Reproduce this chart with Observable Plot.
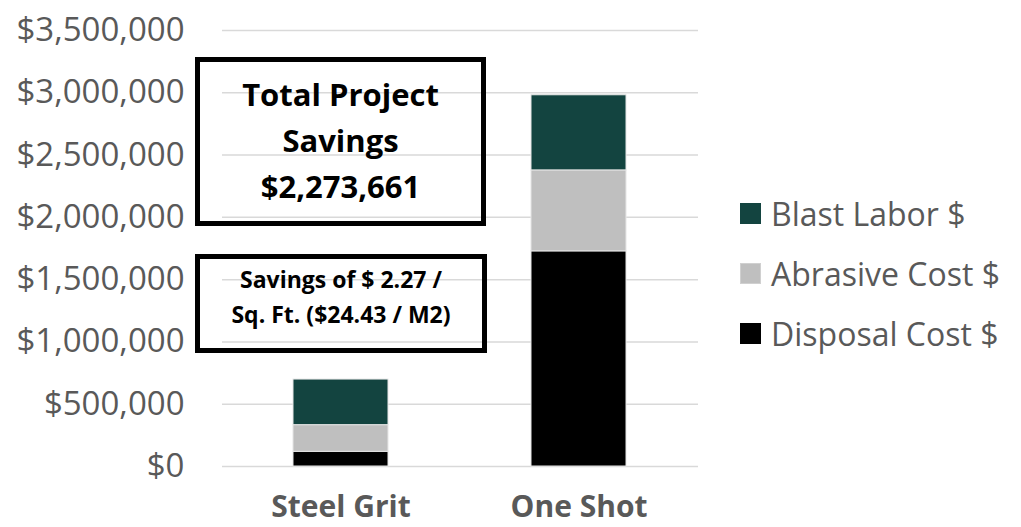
<!DOCTYPE html>
<html>
<head>
<meta charset="utf-8">
<script src="https://cdn.jsdelivr.net/npm/d3@7"></script>
<script src="https://cdn.jsdelivr.net/npm/@observablehq/plot@0.6"></script>
<style>
  body { margin: 0; background: #fff; }
  #wrap { position: relative; width: 1021px; height: 527px; overflow: hidden; font-family: "Open Sans", sans-serif; }
  #wrap svg { position: absolute; left: 0; top: 0; }
  .box { position: absolute; box-sizing: border-box; border: 5px solid #000; text-align: center; color: #000; font-weight: bold; }
  .legend { position: absolute; left: 740px; top: 0; }
  .legend .row { position: absolute; left: 0; height: 30px; display: flex; align-items: center; white-space: nowrap; }
  .legend .sw { width: 21px; height: 21px; margin-right: 10px; box-sizing: border-box; }
  .legend .lab { font-size: 32px; color: #595959; }
</style>
</head>
<body>
<div id="wrap"></div>
<script>
const categories = ["Steel Grit", "One Shot"];
const seriesNames = ["Disposal Cost $", "Abrasive Cost $", "Blast Labor $"];
const disposal = [118000, 1727000];
const abrasive = [214000, 650000];
const blast = [366000, 603000];
const seriesColors = ["#000000", "#bfbfbf", "#134440"];
const yTicks = [0, 500000, 1000000, 1500000, 2000000, 2500000, 3000000, 3500000];
const yTickLabels = ["$0", "$500,000", "$1,000,000", "$1,500,000", "$2,000,000", "$2,500,000", "$3,000,000", "$3,500,000"];
const legendOrder = ["Blast Labor $", "Abrasive Cost $", "Disposal Cost $"];
const boxTitle = ["Total Project", "Savings", "$2,273,661"];
const boxNote = ["Savings of $ 2.27 /", "Sq. Ft. ($24.43 / M2)"];

const seriesValues = [disposal, abrasive, blast];
const rows = [];
seriesNames.forEach((s, si) => categories.forEach((c, ci) => rows.push({cat: c, series: s, value: seriesValues[si][ci]})));

const chart = Plot.plot({
  width: 1021,
  height: 527,
  marginLeft: 222,
  marginRight: 323,
  marginTop: 30,
  marginBottom: 61,
  style: {fontFamily: "Open Sans, sans-serif", background: "white"},
  x: {domain: categories, paddingInner: 0.6, paddingOuter: 0.3, label: null},
  y: {domain: [0, 3500000], label: null},
  color: {domain: seriesNames, range: seriesColors},
  marks: [
    Plot.gridY(yTicks, {stroke: "#d9d9d9", strokeOpacity: 1, strokeWidth: 1.5}),
    Plot.barY(rows, Plot.stackY({x: "cat", y: "value", fill: "series", order: seriesNames, stroke: "#e6e6e6", strokeWidth: 1, inset: 0})),
    Plot.axisY(yTicks, {tickSize: 0, tickPadding: 38, fontSize: 33, fill: "#595959", tickFormat: (d) => yTickLabels[yTicks.indexOf(d)], label: null}),
    Plot.axisX({tickSize: 0, tickPadding: 29, fontSize: 30, fontWeight: "bold", fill: "#595959", label: null})
  ]
});

const wrap = document.getElementById("wrap");
wrap.appendChild(chart);

// Annotation boxes
const b1 = document.createElement("div");
b1.className = "box";
Object.assign(b1.style, {left: "195px", top: "57px", width: "291px", height: "169px", paddingTop: "9px", fontSize: "31px", lineHeight: "46px"});
b1.innerHTML = boxTitle.map(t => `<div>${t}</div>`).join("");
wrap.appendChild(b1);

const b2 = document.createElement("div");
b2.className = "box";
Object.assign(b2.style, {left: "195px", top: "254px", width: "292px", height: "99px", paddingTop: "3px", fontSize: "23px", lineHeight: "35px", whiteSpace: "nowrap"});
b2.innerHTML = boxNote.map(t => `<div>${t}</div>`).join("");
wrap.appendChild(b2);

// Legend
const lg = document.createElement("div");
lg.className = "legend";
legendOrder.forEach((name, i) => {
  const r = document.createElement("div");
  r.className = "row";
  r.style.top = (198 + i * 60) + "px";
  const sw = document.createElement("div");
  sw.className = "sw";
  sw.style.background = seriesColors[seriesNames.indexOf(name)];
  if (name === "Abrasive Cost $") sw.style.border = "1px solid #d0d0d0";
  const lab = document.createElement("span");
  lab.className = "lab";
  lab.textContent = name;
  r.appendChild(sw); r.appendChild(lab);
  lg.appendChild(r);
});
wrap.appendChild(lg);
</script>
</body>
</html>
